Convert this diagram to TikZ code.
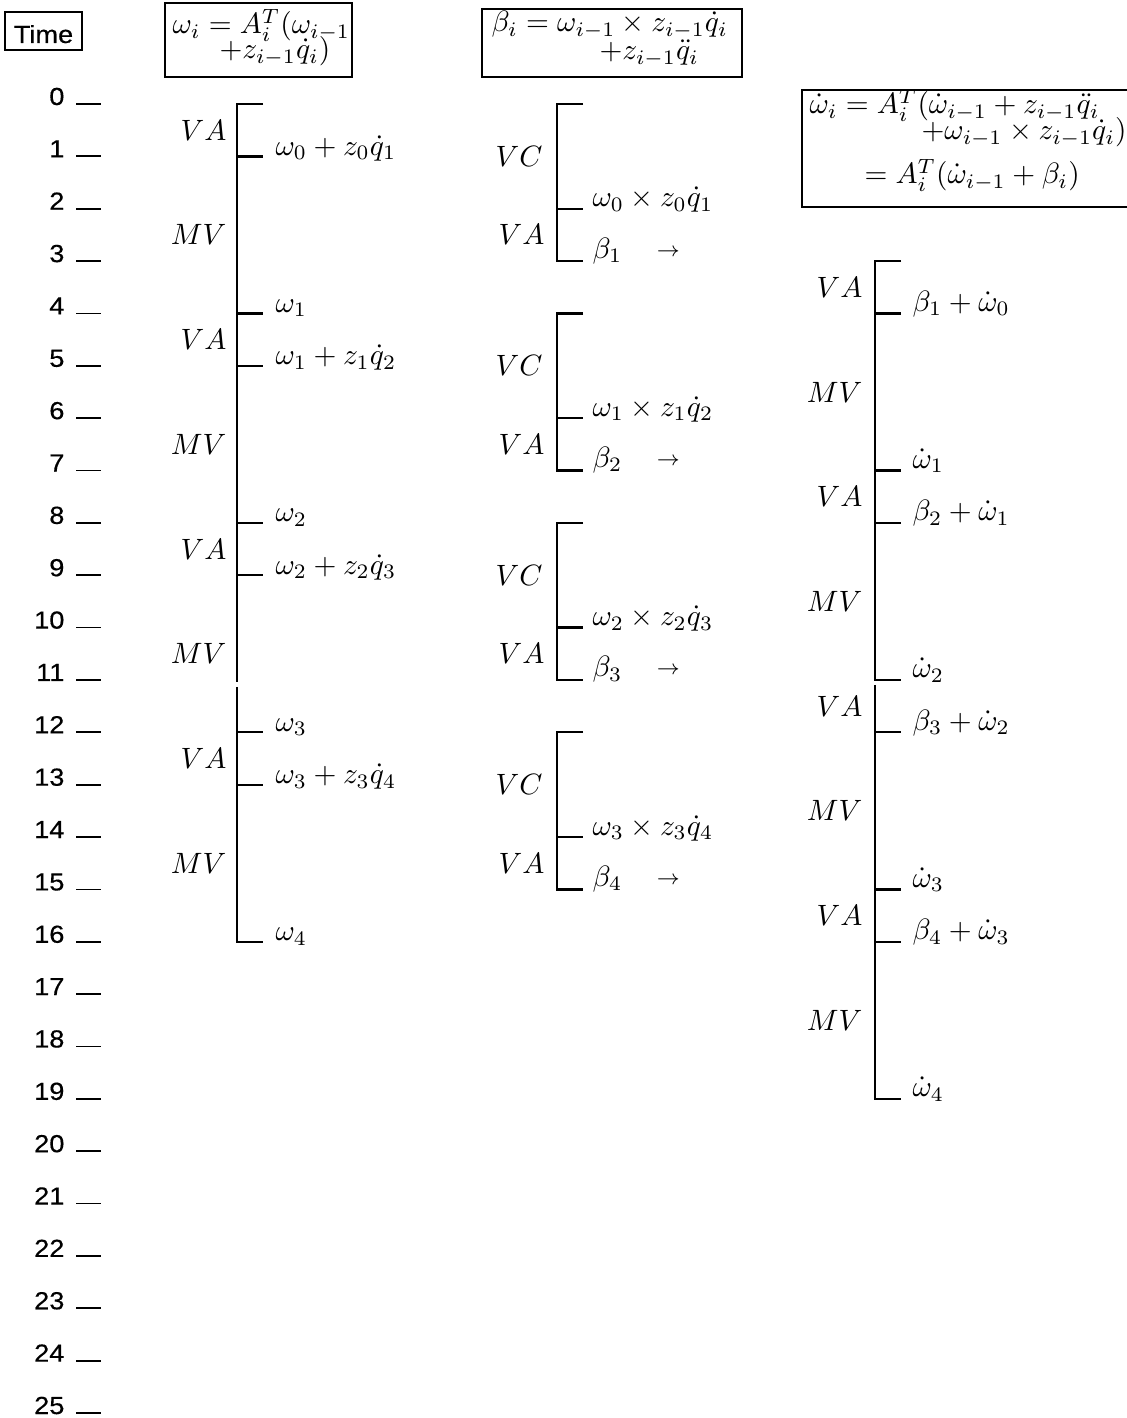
\documentclass[tikz,border=0pt]{standalone}
\usepackage{fontspec}
\newfontfamily\timefont[FakeStretch=1.1,FakeBold=0.4]{Liberation Sans}
\pgfmathdeclarefunction{ty}{1}{\pgfmathparse{104+52.36*#1}}
\tikzset{
  brk/.style={line width=0.8pt},
  frame/.style={line width=0.8pt},
  dashmark/.style={line width=0.6pt},
  lbl/.style={anchor=east, inner sep=0pt},
  val/.style={anchor=base west, inner sep=0pt},
  hdr/.style={anchor=base west, inner sep=0pt},
  tnum/.style={anchor=base east, inner sep=0pt, font=\timefont\fontsize{8.4}{10}\selectfont},
}
\begin{document}
\begin{tikzpicture}[x=0.34pt,y=-0.34pt]
\useasboundingbox (0,0) rectangle (1127,1418);

% ---------- time axis ----------
\draw[frame] (5,12) rectangle (82,50);
\node[anchor=base, inner sep=0pt, font=\timefont\fontsize{8.4}{10}\selectfont] (timelbl) at (43.5,43) {Time};
\foreach \k in {0,...,25} {
  \node[tnum] (n\k) at (65,{ty(\k)+1}) {\k};
  \coordinate (dl\k) at (76,{ty(\k)});
  \coordinate (dr\k) at (101,{ty(\k)});
  \draw[dashmark] (dl\k) -- (dr\k);
}

% ---------- headers ----------
\draw[frame] (165,3) rectangle (352,77);
\node[hdr] (h1a) at (172,34) {$\omega_i=A_i^T(\omega_{i-1}$};
\node[hdr] (h1b) at (219,59) {$+z_{i-1}\dot q_i)$};

\draw[frame] (482,9) rectangle (742,77);
\node[hdr] (h2a) at (491,32) {$\beta_i=\omega_{i-1}\times z_{i-1}\dot q_i$};
\node[hdr] (h2b) at (599,60) {$+z_{i-1}\ddot q_i$};

\draw[frame] (1127,90) -- (802,90) -- (802,207) -- (1127,207);
\node[hdr] (h3a) at (809,114) {$\dot\omega_i=A_i^T(\dot\omega_{i-1}+z_{i-1}\ddot q_i$};
\node[hdr] (h3b) at (921,140) {$+\omega_{i-1}\times z_{i-1}\dot q_i)$};
\node[hdr] (h3c) at (864,184) {$=A_i^T(\dot\omega_{i-1}+\beta_i)$};

% ---------- column 1 ----------
\coordinate (c1t) at (237,{ty(0)});
\coordinate (c1tr) at (263,{ty(0)});
\coordinate (c1g1) at (237,{ty(11)+2});
\coordinate (c1g2) at (237,{ty(11)+7});
\coordinate (c1b) at (237,{ty(16)});
\coordinate (c1br) at (263,{ty(16)});
\draw[brk] (c1tr) -- (c1t) -- (c1g1);
\draw[brk] (c1g2) -- (c1b) -- (c1br);
\foreach \t in {1,4,5,8,9,12,13} {
  \draw[brk] (237,{ty(\t)}) -- (263,{ty(\t)});
}
\node[lbl] (c1l1) at (227,{ty(0.5)}) {$VA$};
\node[lbl] (c1l2) at (227,{ty(2.5)}) {$MV$};
\node[lbl] (c1l3) at (227,{ty(4.5)}) {$VA$};
\node[lbl] (c1l4) at (227,{ty(6.5)}) {$MV$};
\node[lbl] (c1l5) at (227,{ty(8.5)}) {$VA$};
\node[lbl] (c1l6) at (227,{ty(10.5)}) {$MV$};
\node[lbl] (c1l7) at (227,{ty(12.5)}) {$VA$};
\node[lbl] (c1l8) at (227,{ty(14.5)}) {$MV$};
\node[val] (c1v1) at (275,{ty(1)-1}) {$\omega_0+z_0\dot q_1$};
\node[val] (c1v2) at (275,{ty(4)-1}) {$\omega_1$};
\node[val] (c1v3) at (275,{ty(5)-1}) {$\omega_1+z_1\dot q_2$};
\node[val] (c1v4) at (275,{ty(8)-1}) {$\omega_2$};
\node[val] (c1v5) at (275,{ty(9)-1}) {$\omega_2+z_2\dot q_3$};
\node[val] (c1v6) at (275,{ty(12)-1}) {$\omega_3$};
\node[val] (c1v7) at (275,{ty(13)-1}) {$\omega_3+z_3\dot q_4$};
\node[val] (c1v8) at (275,{ty(16)-1}) {$\omega_4$};

% ---------- column 2 ----------
\foreach \bb [evaluate=\bb as \Tb using 4*\bb, evaluate=\bb as \nn using int(\bb+1)] in {0,1,2,3} {
  \draw[brk] (583,{ty(\Tb)}) -- (557,{ty(\Tb)}) -- (557,{ty(\Tb+3)}) -- (583,{ty(\Tb+3)});
  \draw[brk] (557,{ty(\Tb+2)}) -- (583,{ty(\Tb+2)});
  \node[lbl] (vc\nn) at (543,{ty(\Tb+1)}) {$VC$};
  \node[lbl] (va\nn) at (545,{ty(\Tb+2.5)}) {$VA$};
  \node[val] (x\nn) at (592,{ty(\Tb+2)-2}) {$\omega_{\bb}\times z_{\bb}\dot q_{\nn}$};
  \node[val] (b\nn) at (592,{ty(\Tb+3)-3}) {$\beta_{\nn}$};
  \node[val] (ar\nn) at (656,{ty(\Tb+3)-5}) {$\scriptstyle\rightarrow$};
}

% ---------- column 3 ----------
\coordinate (c3t) at (875,{ty(3)});
\coordinate (c3tr) at (901,{ty(3)});
\coordinate (c3g1) at (875,{ty(11)});
\coordinate (c3g1r) at (901,{ty(11)});
\coordinate (c3g2) at (875,{ty(11)+5});
\coordinate (c3b) at (875,{ty(19)});
\coordinate (c3br) at (901,{ty(19)});
\draw[brk] (c3tr) -- (c3t) -- (c3g1) -- (c3g1r);
\draw[brk] (c3g2) -- (c3b) -- (c3br);
\foreach \t in {4,7,8,12,15,16} {
  \draw[brk] (875,{ty(\t)}) -- (901,{ty(\t)});
}
\node[lbl] (c3l1) at (863,{ty(3.5)}) {$VA$};
\node[lbl] (c3l2) at (863,{ty(5.5)}) {$MV$};
\node[lbl] (c3l3) at (863,{ty(7.5)}) {$VA$};
\node[lbl] (c3l4) at (863,{ty(9.5)}) {$MV$};
\node[lbl] (c3l5) at (863,{ty(11.5)}) {$VA$};
\node[lbl] (c3l6) at (863,{ty(13.5)}) {$MV$};
\node[lbl] (c3l7) at (863,{ty(15.5)}) {$VA$};
\node[lbl] (c3l8) at (863,{ty(17.5)}) {$MV$};
\node[val] (c3v1) at (912,{ty(4)-2}) {$\beta_1+\dot\omega_0$};
\node[val] (c3v2) at (912,{ty(7)-2}) {$\dot\omega_1$};
\node[val] (c3v3) at (912,{ty(8)-2}) {$\beta_2+\dot\omega_1$};
\node[val] (c3v4) at (912,{ty(11)-2}) {$\dot\omega_2$};
\node[val] (c3v5) at (912,{ty(12)-2}) {$\beta_3+\dot\omega_2$};
\node[val] (c3v6) at (912,{ty(15)-2}) {$\dot\omega_3$};
\node[val] (c3v7) at (912,{ty(16)-2}) {$\beta_4+\dot\omega_3$};
\node[val] (c3v8) at (912,{ty(19)-2}) {$\dot\omega_4$};
\end{tikzpicture}
\end{document}
